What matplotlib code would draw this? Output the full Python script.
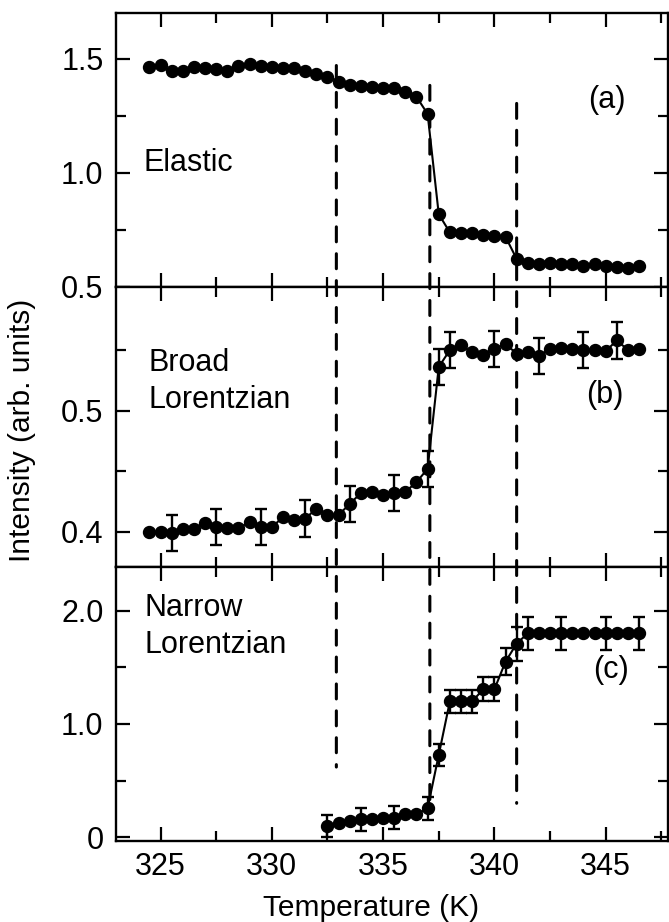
import matplotlib
matplotlib.use("Agg")
import matplotlib.pyplot as plt
import numpy as np
from matplotlib.patches import ConnectionPatch

plt.rcParams['font.family'] = ['Liberation Sans', 'DejaVu Sans']

# temperaturas (K)
temp_ab = [324.5, 325.0, 325.5, 326.0, 326.5, 327.0, 327.5, 328.0, 328.5, 329.0,
           329.5, 330.0, 330.5, 331.0, 331.5, 332.0, 332.5, 333.0, 333.5, 334.0,
           334.5, 335.0, 335.5, 336.0, 336.5, 337.0, 337.5, 338.0, 338.5, 339.0,
           339.5, 340.0, 340.5, 341.0, 341.5, 342.0, 342.5, 343.0, 343.5, 344.0,
           344.5, 345.0, 345.5, 346.0, 346.5]
temp_c = [332.5, 333.0, 333.5, 334.0, 334.5, 335.0, 335.5, 336.0, 336.5, 337.0,
          337.5, 338.0, 338.5, 339.0, 339.5, 340.0, 340.5, 341.0, 341.5, 342.0,
          342.5, 343.0, 343.5, 344.0, 344.5, 345.0, 345.5, 346.0, 346.5]

# (a) elastica
elastic = [1.464, 1.471, 1.445, 1.445, 1.464, 1.457, 1.454, 1.446, 1.467, 1.478,
           1.467, 1.464, 1.457, 1.457, 1.446, 1.432, 1.420, 1.399, 1.384, 1.381,
           1.377, 1.372, 1.370, 1.355, 1.333, 1.258, 0.819, 0.739, 0.735, 0.735,
           0.729, 0.722, 0.720, 0.623, 0.604, 0.601, 0.604, 0.601, 0.599, 0.594,
           0.601, 0.594, 0.587, 0.583, 0.590]

# (b) lorentziana ancha
broad = [0.400, 0.400, 0.399, 0.402, 0.402, 0.407, 0.404, 0.403, 0.403, 0.408,
         0.404, 0.404, 0.412, 0.410, 0.411, 0.419, 0.414, 0.414, 0.423, 0.432,
         0.433, 0.430, 0.432, 0.433, 0.441, 0.452, 0.536, 0.550, 0.554, 0.548,
         0.546, 0.551, 0.555, 0.547, 0.548, 0.545, 0.551, 0.552, 0.551, 0.550,
         0.550, 0.549, 0.558, 0.550, 0.551]
broad_err = [0, 0, 0.015, 0, 0, 0, 0.015, 0, 0, 0,
             0.015, 0, 0, 0, 0.015, 0, 0, 0, 0.015, 0,
             0, 0, 0.015, 0, 0, 0.015, 0.015, 0.015, 0, 0,
             0, 0.015, 0, 0, 0, 0.015, 0, 0, 0, 0.015,
             0, 0, 0.015, 0, 0]

# (c) lorentziana estrecha
narrow = [0.100, 0.129, 0.144, 0.159, 0.164, 0.173, 0.173, 0.203, 0.203, 0.256,
          0.727, 1.200, 1.200, 1.200, 1.306, 1.306, 1.550, 1.710, 1.800, 1.800,
          1.800, 1.800, 1.800, 1.800, 1.800, 1.800, 1.800, 1.800, 1.800]
narrow_err = [0.10, 0, 0, 0.10, 0, 0, 0.10, 0, 0, 0.10,
              0.10, 0.104, 0.104, 0.104, 0.107, 0.107, 0.12, 0.15, 0.147, 0,
              0, 0.147, 0, 0, 0, 0.147, 0, 0, 0.147]

# lineas verticales: temperatura, inicio en (a), fin en (c)
trans_T = [332.9, 337.1, 341.0]
trans_top = [1.47, 1.383, 1.304]
trans_bot = [0.62, 0.33, 0.30]

W, H = 669, 922
fig = plt.figure(figsize=(W / 100, H / 100), dpi=100)
left = 116 / W
width = (668 - 116) / W
ax_a = fig.add_axes([left, 1 - 287 / H, width, 274 / H])
ax_b = fig.add_axes([left, 1 - 567 / H, width, 280 / H], sharex=ax_a)
ax_c = fig.add_axes([left, 1 - 841 / H, width, 274 / H], sharex=ax_a)

ms = 8.6
lw = 1.5
fs = 22


def dibujar(ax, x, y, err=None):
    if err is not None:
        xe = [xi for xi, e in zip(x, err) if e > 0]
        ye = [yi for yi, e in zip(y, err) if e > 0]
        ee = [e for e in err if e > 0]
        ax.errorbar(xe, ye, yerr=ee, fmt='none', ecolor='black', elinewidth=1.7,
                    capsize=4, capthick=1.7, zorder=2)
    ax.plot(x, y, '-o', color='black', ms=ms, lw=lw, zorder=3)


dibujar(ax_a, temp_ab, elastic)
dibujar(ax_b, temp_ab, broad, broad_err)
dibujar(ax_c, temp_c, narrow, narrow_err)

ax_a.set_xlim(323.0, 347.8)
ax_a.set_xticks([325, 330, 335, 340, 345])
ax_a.set_xticks([327.5, 332.5, 337.5, 342.5, 347.5], minor=True)

ax_a.set_ylim(0.5, 1.70)
ax_a.set_yticks([0.5, 1.0, 1.5])
ax_a.set_yticklabels(['0.5', '1.0', '1.5'])
ax_a.set_yticks([0.75, 1.25], minor=True)

ax_b.set_ylim(0.371, 0.602)
ax_b.set_yticks([0.4, 0.5])
ax_b.set_yticklabels(['0.4', '0.5'])
ax_b.set_yticks([0.45, 0.55], minor=True)

ax_c.set_ylim(-0.033, 2.386)
ax_c.set_yticks([0, 1.0, 2.0])
ax_c.set_yticklabels(['0', '1.0', '2.0'])
ax_c.set_yticks([0.5, 1.5], minor=True)

for ax in (ax_a, ax_b, ax_c):
    ax.tick_params(which='both', direction='in', top=True, right=True, width=1.6,
                   labelsize=fs)
    ax.tick_params(which='major', length=10)
    ax.tick_params(which='minor', length=7)
    ax.tick_params(axis='y', pad=9)
    ax.tick_params(axis='x', pad=8)
    for s in ax.spines.values():
        s.set_linewidth(1.7)
for ax in (ax_a, ax_b):
    ax.tick_params(labelbottom=False)

# textos de cada panel
ax_a.text(0.049, 0.453, 'Elastic', transform=ax_a.transAxes, fontsize=fs,
          va='center', ha='left')
ax_a.text(0.889, 0.682, '(a)', transform=ax_a.transAxes, fontsize=fs,
          va='center', ha='center')
ax_b.text(0.058, 0.661, 'Broad\nLorentzian', transform=ax_b.transAxes, fontsize=fs,
          va='center', ha='left', linespacing=1.3)
ax_b.text(0.885, 0.614, '(b)', transform=ax_b.transAxes, fontsize=fs,
          va='center', ha='center')
ax_c.text(0.051, 0.784, 'Narrow\nLorentzian', transform=ax_c.transAxes, fontsize=fs,
          va='center', ha='left', linespacing=1.3)
ax_c.text(0.897, 0.624, '(c)', transform=ax_c.transAxes, fontsize=fs,
          va='center', ha='center')

# lineas discontinuas que cruzan los tres paneles
for t, y0, y1 in zip(trans_T, trans_top, trans_bot):
    con = ConnectionPatch(xyA=(t, y0), coordsA=ax_a.transData,
                          xyB=(t, y1), coordsB=ax_c.transData,
                          color='black', lw=2.2, linestyle=(0, (4.9, 3.9)),
                          zorder=5)
    fig.add_artist(con)

fig.text(22 / W, 1 - 430 / H, 'Intensity (arb. units)', rotation=90,
         fontsize=21.5, ha='center', va='center')
fig.text(371 / W, 1 - 908 / H, 'Temperature (K)', fontsize=21.5,
         ha='center', va='center')

fig.savefig('out.png', dpi=100, facecolor='white')
